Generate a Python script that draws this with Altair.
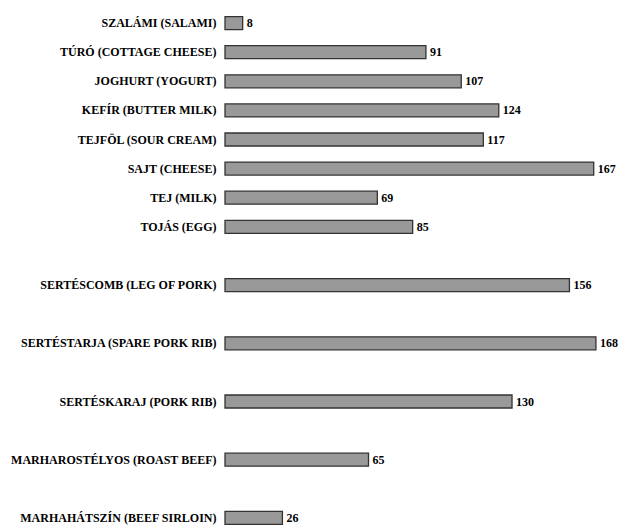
import altair as alt
import pandas as pd

labels = [
    "SZALÁMI (SALAMI)",
    "TÚRÓ (COTTAGE CHEESE)",
    "JOGHURT (YOGURT)",
    "KEFÍR (BUTTER MILK)",
    "TEJFÖL (SOUR CREAM)",
    "SAJT (CHEESE)",
    "TEJ (MILK)",
    "TOJÁS (EGG)",
    "SERTÉSCOMB (LEG OF PORK)",
    "SERTÉSTARJA (SPARE PORK RIB)",
    "SERTÉSKARAJ (PORK RIB)",
    "MARHAROSTÉLYOS (ROAST BEEF)",
    "MARHAHÁTSZÍN (BEEF SIRLOIN)",
]
values = [8, 91, 107, 124, 117, 167, 69, 85, 156, 168, 130, 65, 26]

# y-domain order: the meat rows are separated by blank slots
order = labels[:8]
for i, lab in enumerate(labels[8:]):
    order.append(" " * (i + 1))
    order.append(lab)

df = pd.DataFrame({"item": labels, "value": values})

FONT = "Liberation Serif"

y = alt.Y(
    "item:N",
    sort=order,
    scale=alt.Scale(domain=order, paddingInner=0, paddingOuter=0),
    axis=alt.Axis(
        title=None, domain=False, ticks=False, labelPadding=9,
        labelFont=FONT, labelFontWeight="bold",
        labelFontSize=12, labelColor="#000000", labelLimit=300,
    ),
)
x = alt.X("value:Q", scale=alt.Scale(domain=[0, 178], nice=False), axis=None)

bars = alt.Chart(df).mark_bar(
    size=13, color="#999999", stroke="#333333", strokeWidth=1.3
).encode(x=x, y=y)

text = alt.Chart(df).mark_text(
    align="left", baseline="middle", dx=4, font=FONT,
    fontWeight="bold", fontSize=12, color="#000000"
).encode(x=x, y=y, text="value:Q")

chart = (bars + text).properties(
    width=393, height=524,
    autosize=alt.AutoSizeParams(type="none"),
    padding={"left": 225, "top": 8.5, "right": 1, "bottom": 0},
    background="#ffffff",
).configure_view(stroke=None)

chart.save("out.html", embed_options={"renderer": "svg", "actions": False})
